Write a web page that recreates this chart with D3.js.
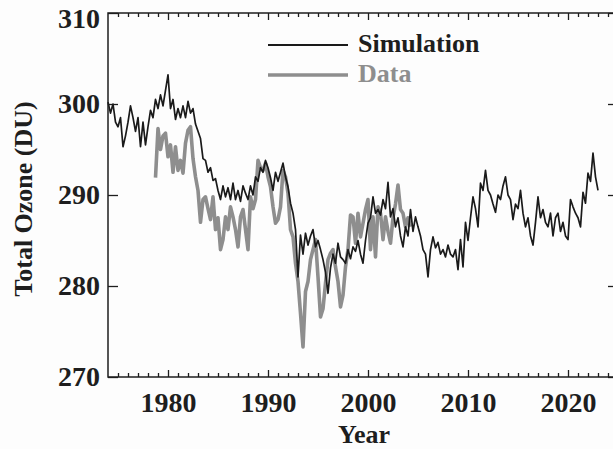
<!DOCTYPE html>
<meta charset="utf-8">
<html>
<head>
<script src="https://d3js.org/d3.v7.min.js"></script>
<style>
    body { margin: 0; background: #fdfdfd; }
    svg text { font-family: "Times New Roman", Times, "Liberation Serif", "DejaVu Serif", serif !important; font-weight: bold; fill: #1e1e1e; }
</style>
</head>
<body>
<div id="chart"></div>
<script>

// simulated total ozone, quarterly steps from 1974.0
var simStart = 1974.0;
var simStep = 0.25;
var simValues = [
    300.2, 299.0, 300.0, 298.0,   297.5, 298.5, 295.3, 296.5,   // 1974-75
    298.0, 299.8, 298.5, 297.0,   298.5, 295.3, 298.0, 295.5,   // 1976-77
    297.5, 299.3, 298.5, 300.5,   299.5, 301.0, 299.8, 301.5,   // 1978-79
    303.2, 299.5, 300.5, 298.3,   299.5, 298.5, 299.8, 298.5,   // 1980-81
    300.3, 299.0, 299.5, 297.8,   297.0, 296.2, 294.0, 293.8,   // 1982-83
    292.5, 293.0, 291.6, 291.8,   290.5, 289.5, 291.0, 289.8,   // 1984-85
    290.8, 289.5, 291.3, 289.5,   290.5, 289.3, 291.0, 290.2,   // 1986-87
    289.5, 291.0, 290.0, 292.0,   291.5, 293.0, 292.5, 293.8,   // 1988-89
    293.0, 291.9, 290.5, 292.5,   291.5, 292.5, 293.5, 292.0,   // 1990-91
    290.9, 289.1, 288.0, 286.2,   281.0, 285.6, 283.5, 285.8,   // 1992-93
    284.5, 285.5, 286.2, 284.3,   285.0, 284.0, 282.9, 281.5,   // 1994-95
    279.2, 282.0, 283.5, 282.5,   284.7, 283.2, 282.9, 282.5,   // 1996-97
    284.0, 283.0, 284.3, 283.8,   285.0, 283.5, 282.5, 285.0,   // 1998-99
    286.9, 287.5, 289.8, 288.0,   288.4, 287.8, 289.5, 288.5,   // 2000-01
    291.4, 287.6, 288.5, 286.5,   287.5, 285.5, 284.3, 286.5,   // 2002-03
    285.5, 288.4, 286.0, 287.6,   286.5, 285.5, 284.0, 283.5,   // 2004-05
    281.0, 284.0, 285.4, 284.2,   284.8, 283.5, 284.0, 283.2,   // 2006-07
    284.5, 283.5, 283.2, 284.0,   281.8, 285.1, 282.1, 287.0,   // 2008-09
    285.0, 287.5, 289.8, 288.5,   286.5, 291.3, 290.5, 292.7,   // 2010-11
    290.5, 290.0, 289.0, 288.1,   290.0, 289.5, 291.0, 292.0,   // 2012-13
    290.0, 289.5, 287.3, 289.0,   288.5, 290.5, 288.0, 286.5,   // 2014-15
    287.5, 285.5, 284.5, 287.0,   289.8, 287.5, 288.4, 287.0,   // 2016-17
    286.5, 288.0, 285.5, 287.5,   288.0, 286.0, 287.0, 285.5,   // 2018-19
    285.1, 289.5, 288.7, 288.0,   287.5, 286.5, 290.3, 289.1,   // 2020-21
    292.4, 291.5, 294.6, 292.0,   290.5                         // 2022-23
];

// observed total ozone, quarterly steps from 1978.75
var obsStart = 1978.75;
var obsStep = 0.25;
var obsValues = [
    291.9,
    297.3, 295.0, 296.5, 296.8,   294.2, 295.5, 292.5, 295.3,   // 1979-80
    292.7, 293.8, 292.4, 295.7,   297.1, 297.5, 294.0, 292.0,   // 1981-82
    290.5, 287.0, 289.5, 289.8,   288.5, 287.3, 289.8, 286.2,   // 1983-84
    287.5, 284.0, 285.1, 287.6,   286.2, 288.7, 287.6, 286.2,   // 1985-86
    284.3, 287.6, 288.4, 286.2,   284.0, 289.8, 288.5, 289.5,   // 1987-88
    293.8, 293.0, 292.7, 293.5,   292.0, 290.9, 288.7, 286.9,   // 1989-90
    287.3, 288.7, 292.7, 292.0,   290.2, 286.2, 285.4, 282.5,   // 1991-92
    280.5, 277.0, 273.3, 279.4,   280.5, 282.9, 284.0, 285.1,   // 1993-94
    281.0, 276.6, 277.5, 280.3,   282.9, 283.6, 284.0, 282.1,   // 1995-96
    280.5, 277.7, 279.0, 282.1,   284.0, 287.8, 287.6, 284.7,   // 1997-98
    288.0, 285.4, 286.9, 288.4,   289.5, 284.0, 287.6, 283.2,   // 1999-2000
    288.7, 288.0, 285.1, 287.6,   286.0, 284.7, 287.5, 289.0,   // 2001-02
    291.1, 288.4, 288.0, 286.5,   287.5, 286.5                  // 2003-04
];

var majorYears = [1980, 1990, 2000, 2010, 2020];
var yTicks = [270, 280, 290, 300, 310];
var legendNames = ["Simulation", "Data"];
var legendColors = ["#1a1a1a", "#8e8e8e"];

var width = 613, height = 449;
var plot = {left: 108, right: 618, top: 13, bottom: 377};

var svg = d3.select("#chart").append("svg")
    .attr("width", width)
    .attr("height", height);

var x = d3.scaleLinear().domain([1974, 2025]).range([plot.left, plot.right]);
var y = d3.scaleLinear().domain([270, 310]).range([plot.bottom, plot.top]);

// turn value arrays into points
function toPoints(start, step, vals) {
    return vals.map(function(v, i) { return {year: start + i * step, value: v}; });
}
var simData = toPoints(simStart, simStep, simValues);
var obsData = toPoints(obsStart, obsStep, obsValues);

var line = d3.line()
    .x(function(d) { return x(d.year); })
    .y(function(d) { return y(d.value); });

// data (gray, thick) first, simulation on top
svg.append("path")
    .datum(obsData)
    .attr("d", line)
    .attr("fill", "none")
    .attr("stroke", legendColors[1])
    .attr("stroke-width", 3.6)
    .attr("stroke-linejoin", "round");

svg.append("path")
    .datum(simData)
    .attr("d", line)
    .attr("fill", "none")
    .attr("stroke", legendColors[0])
    .attr("stroke-width", 1.7)
    .attr("stroke-linejoin", "round");

// axes, ticks pointing inward
var minorYears = d3.range(1975, 2025).filter(function(d) { return d % 10 != 0; });

svg.append("g")
    .attr("transform", "translate(0," + plot.bottom + ")")
    .call(d3.axisBottom(x).tickValues(majorYears).tickSize(-7).tickPadding(15).tickFormat(d3.format("d")))
    .call(function(g) { g.select(".domain").remove(); })
    .selectAll("text").style("font-size", "28px");

svg.append("g")
    .attr("transform", "translate(0," + plot.bottom + ")")
    .call(d3.axisBottom(x).tickValues(minorYears).tickSize(-4).tickFormat(""))
    .call(function(g) { g.select(".domain").remove(); });

svg.append("g")
    .attr("transform", "translate(0," + plot.top + ")")
    .call(d3.axisTop(x).tickValues(majorYears).tickSize(-7).tickFormat(""))
    .call(function(g) { g.select(".domain").remove(); });

svg.append("g")
    .attr("transform", "translate(0," + plot.top + ")")
    .call(d3.axisTop(x).tickValues(minorYears).tickSize(-4).tickFormat(""))
    .call(function(g) { g.select(".domain").remove(); });

var yAxis = svg.append("g")
    .attr("transform", "translate(" + plot.left + ",0)")
    .call(d3.axisLeft(y).tickValues(yTicks).tickSize(-10).tickPadding(8).tickFormat(d3.format("d")))
    .call(function(g) { g.select(".domain").remove(); });
yAxis.selectAll("text").style("font-size", "28px");
// keep the top label inside the picture
yAxis.selectAll("text").filter(function(d) { return d == 310; }).attr("dy", "0.5em");

svg.append("g")
    .attr("transform", "translate(" + plot.right + ",0)")
    .call(d3.axisRight(y).tickValues(yTicks).tickSize(-10).tickFormat(""))
    .call(function(g) { g.select(".domain").remove(); });

svg.selectAll(".tick line").attr("stroke", "#1e1e1e").attr("stroke-width", 1.3);

// plot frame
svg.append("rect")
    .attr("x", plot.left)
    .attr("y", plot.top)
    .attr("width", plot.right - plot.left)
    .attr("height", plot.bottom - plot.top)
    .attr("fill", "none")
    .attr("stroke", "#1e1e1e")
    .attr("stroke-width", 1.5);

// axis titles
svg.append("text")
    .attr("x", x(1999.6))
    .attr("y", 443)
    .attr("text-anchor", "middle")
    .style("font-size", "26px")
    .text("Year");

svg.append("text")
    .attr("transform", "translate(32,199) rotate(-90)")
    .attr("text-anchor", "middle")
    .style("font-size", "26px")
    .text("Total Ozone (DU)");

// legend
var legend = svg.selectAll(".legend")
    .data(legendNames)
    .enter().append("g")
    .attr("class", "legend")
    .attr("transform", function(d, i) { return "translate(268," + (45 + i * 30) + ")"; });

legend.append("line")
    .attr("x1", 0).attr("x2", 80)
    .attr("stroke", function(d, i) { return legendColors[i]; })
    .attr("stroke-width", function(d, i) { return i == 0 ? 2 : 3.6; });

legend.append("text")
    .attr("x", 90)
    .attr("y", 7)
    .style("font-size", "26px")
    .style("fill", function(d, i) { return i == 0 ? "#1e1e1e" : "#8e8e8e"; })
    .text(function(d) { return d; });

</script>
</body>
</html>
